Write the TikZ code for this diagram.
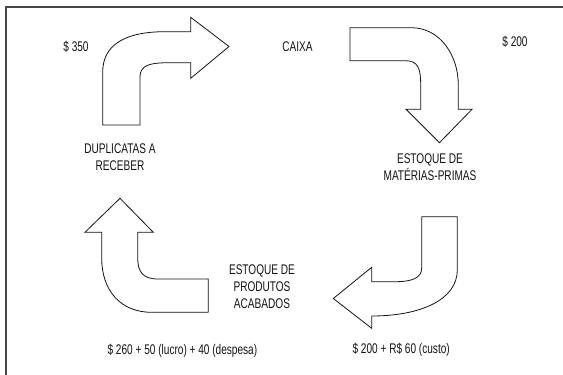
\documentclass[tikz,border=0pt]{standalone}
\usepackage{fontspec}
\setmainfont{Liberation Sans}[FakeStretch=0.72]
\usepackage{tikz}
\usetikzlibrary{
  arrows.meta,
  positioning
}
\definecolor{framegrey}{RGB}{70, 70, 70}
\definecolor{inkblack}{RGB}{20, 20, 20}

\begin{document}
\begin{tikzpicture}[x=1pt, y=-1pt,
    bigarrow/.style={draw=inkblack, fill=white, line width=0.8pt, line join=miter},
    lbl/.style={font=\fontsize{14}{17}\selectfont, align=center, inner sep=0pt, text=inkblack}]
  \useasboundingbox (0,0) rectangle (563,375);
  % ---------- frame ----------
  \draw[line width=1.3pt, framegrey] (6,375) -- (6,7) -- (563,7);
  % ---------- block arrows ----------
  % duplicatas -> caixa
  \draw[bigarrow] (102.7,125) -- (102.7,72)
    .. controls (102.7,45) and (125,31.7) .. (165,31.7) -- (190.7,31.7)
    -- (190.7,17.3) -- (229,46.5) -- (190.7,78.3) -- (190.7,62.7) -- (170,62.7)
    .. controls (150,62.7) and (140,65) .. (140,77) -- (140,125) -- cycle;
  % caixa -> materias-primas
  \draw[bigarrow] (350,27.7) -- (411.7,27.7)
    .. controls (440,28) and (458.3,55) .. (458.3,85) -- (458.3,109.3)
    -- (472,109.3) -- (439.5,142.7) -- (406,109.3) -- (420.7,109.3) -- (420.7,85)
    .. controls (420.7,68) and (418,60.7) .. (405,60.7) -- (350,60.7) -- cycle;
  % materias-primas -> produtos acabados
  \draw[bigarrow] (421.7,216.7) -- (457.3,216.7) -- (457.3,270)
    .. controls (457.3,300) and (420,316) .. (371.7,316)
    -- (371.7,328.3) -- (333.3,298.5) -- (371.7,267.3) -- (371.7,281.7) -- (395,281.7)
    .. controls (412,281.7) and (421.7,278) .. (421.7,268) -- cycle;
  % produtos acabados -> duplicatas
  \draw[bigarrow] (208.3,312.3) -- (151.7,312.3)
    .. controls (120,312.3) and (101.7,290) .. (101.7,258) -- (101.7,232.3)
    -- (85,232.3) -- (120,198.3) -- (153.3,232.3) -- (137.7,232.3) -- (137.7,258)
    .. controls (137.7,272) and (143,279) .. (158,279) -- (208.3,279) -- cycle;
  % ---------- labels ----------
  \node[lbl] (v350) at (76,47) {\$ 350};
  \node[lbl] (caixa) at (297.5,46.5) {CAIXA};
  \node[lbl] (v200) at (515,42) {\$ 200};
  \node[lbl] (dup) at (120,157) {DUPLICATAS A\\RECEBER};
  \node[lbl] (estmp) at (430,167) {ESTOQUE DE\\MATÉRIAS-PRIMAS};
  \node[lbl] (estpa) at (262,287) {ESTOQUE DE\\PRODUTOS\\ACABADOS};
  \node[lbl] (vpa) at (182.4,350.5) {\$ 260 + 50 (lucro) + 40 (despesa)};
  \node[lbl] (vmp) at (401.2,350) {\$ 200 + R\$ 60 (custo)};
\end{tikzpicture}
\end{document}
